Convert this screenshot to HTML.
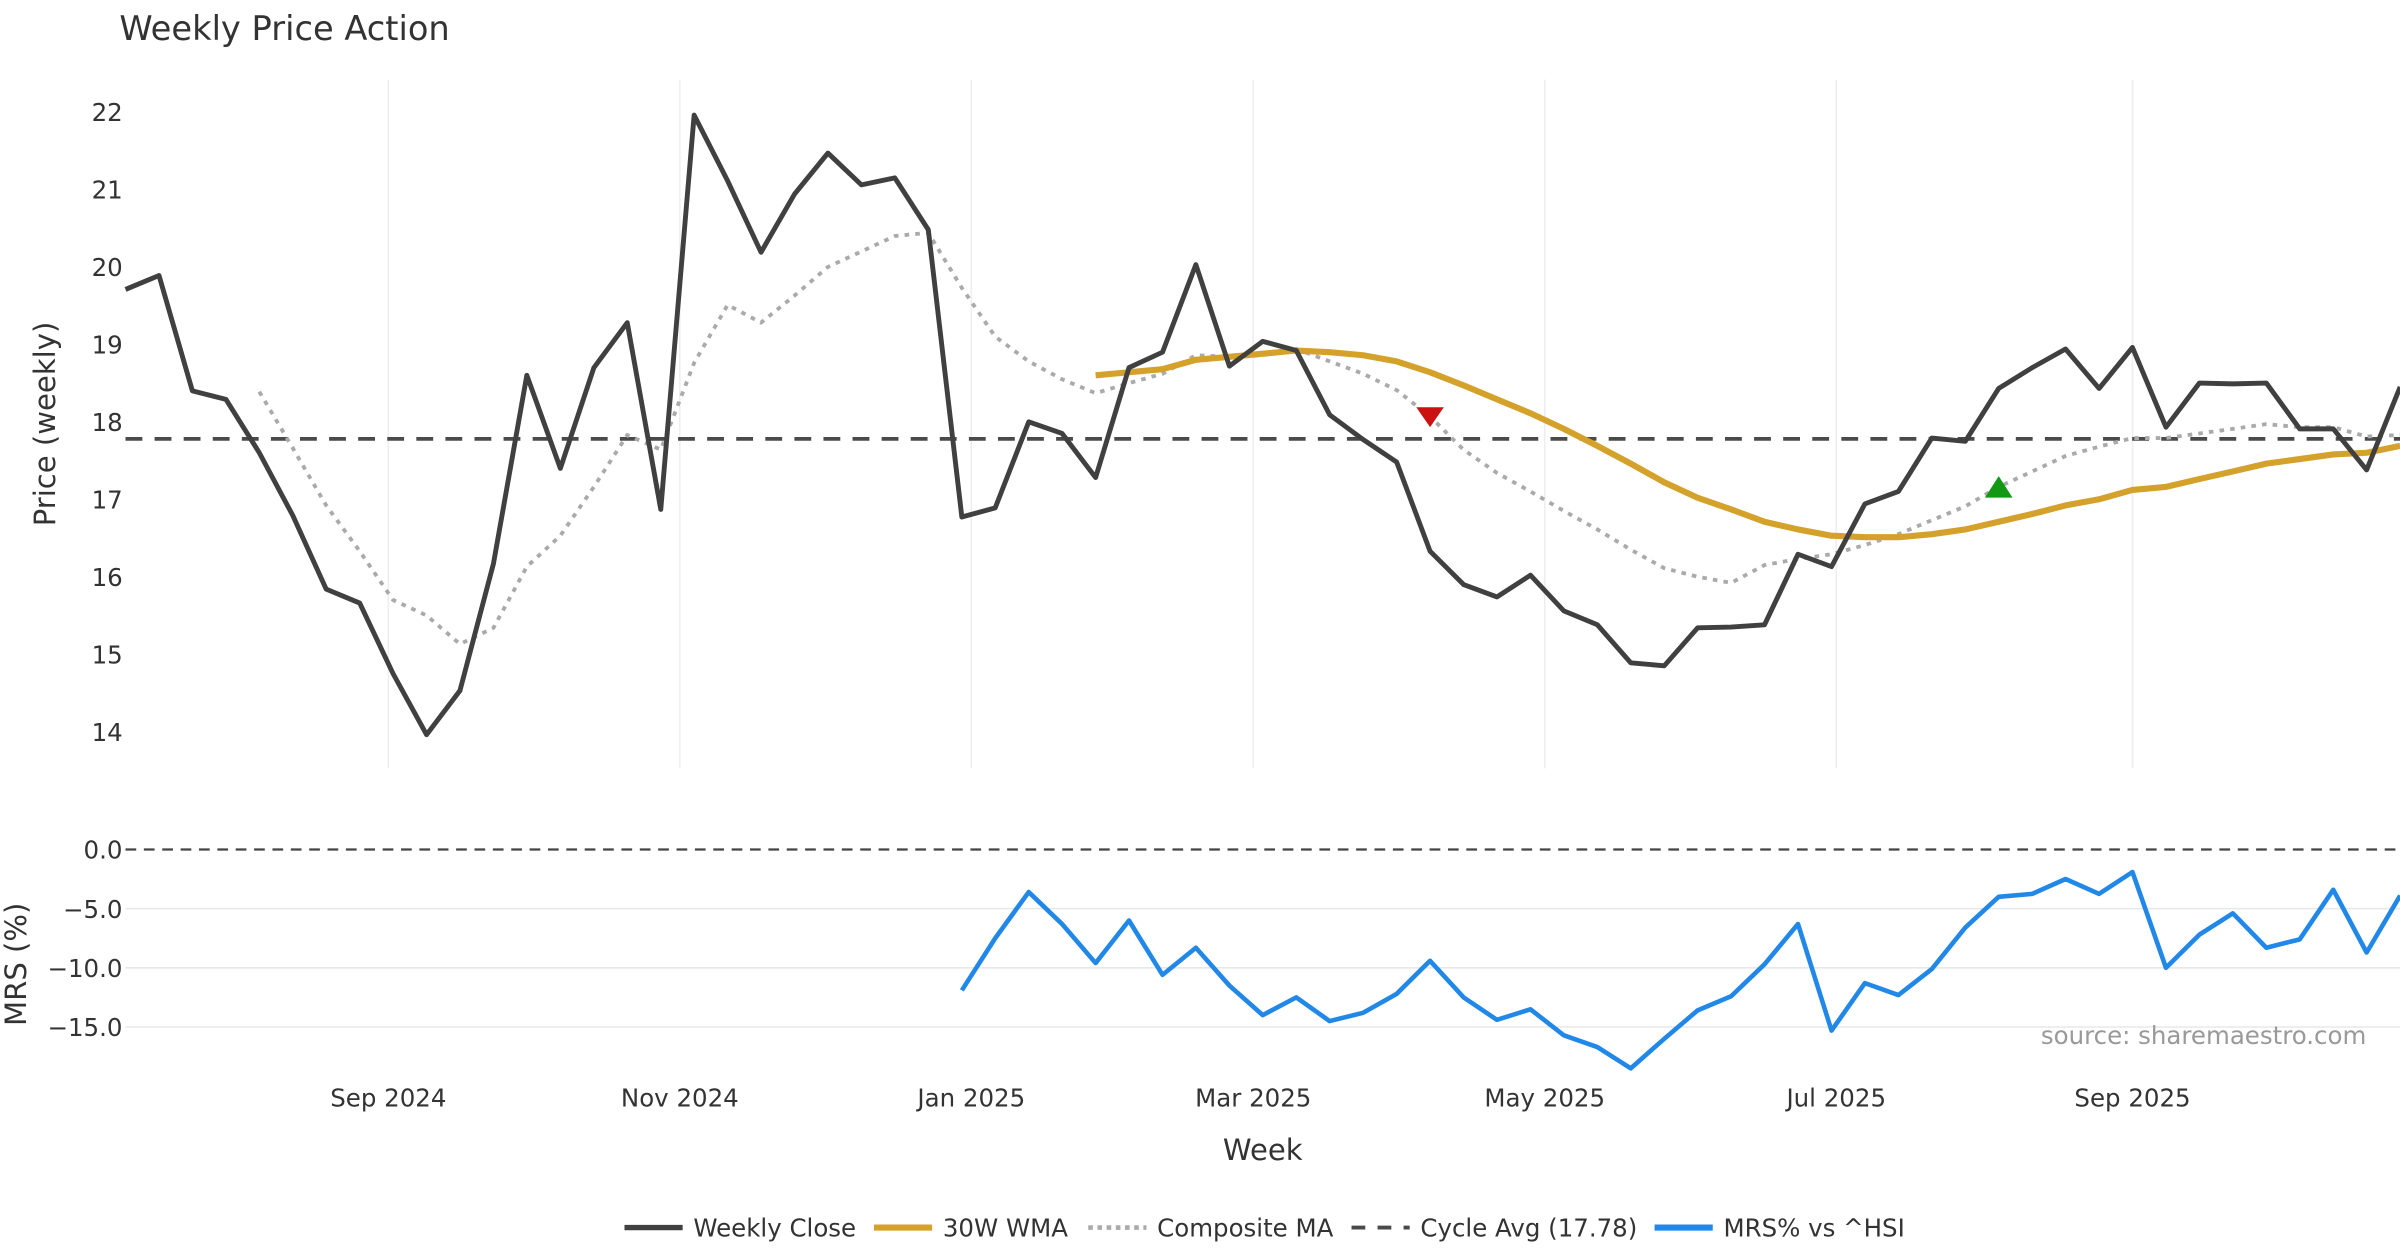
<!DOCTYPE html>
<html><head><meta charset="utf-8"><style>
html,body{margin:0;padding:0;background:#fff}
svg{display:block;font-family:"DejaVu Sans","Liberation Sans",sans-serif}
</style></head><body>
<svg id="chart" width="2400" height="1260" viewBox="0 0 1568 823.2" xmlns="http://www.w3.org/2000/svg">
<text x="78" y="26" font-size="22" fill="#333">Weekly Price Action</text>
<g id="grid"></g>
<g id="series"></g>
<g id="axes"></g>
<text x="1546" y="682" font-size="16" fill="#999" text-anchor="end">source: sharemaestro.com</text>
<text x="825" y="758" font-size="19" fill="#333" text-anchor="middle">Week</text>
<text transform="translate(36,277) rotate(-90)" font-size="19" fill="#333" text-anchor="middle">Price (weekly)</text>
<text transform="translate(17,630) rotate(-90)" font-size="19" fill="#333" text-anchor="middle">MRS (%)</text>
<g id="legend"></g>
</svg>
<script>
const closeVals=[19.71,19.89,18.4,18.29,17.6,16.79,15.84,15.66,14.75,13.96,14.53,16.17,18.6,17.4,18.7,19.28,16.87,21.96,21.11,20.19,20.94,21.47,21.06,21.15,20.48,16.77,16.89,18.0,17.85,17.28,18.7,18.9,20.03,18.72,19.04,18.92,18.09,17.77,17.48,16.33,15.9,15.74,16.02,15.56,15.38,14.89,14.85,15.34,15.35,15.38,16.29,16.13,16.94,17.1,17.79,17.75,18.43,18.7,18.94,18.43,18.96,17.93,18.5,18.49,18.5,17.91,17.91,17.38,18.45];
const compositeStart=4;
const compositeVals=[18.39,17.66,16.92,16.33,15.7,15.5,15.13,15.34,16.13,16.53,17.16,17.83,17.64,18.76,19.51,19.28,19.63,20.0,20.2,20.4,20.44,19.73,19.1,18.78,18.55,18.37,18.5,18.62,18.86,18.84,18.86,18.94,18.78,18.62,18.41,18.07,17.64,17.34,17.1,16.85,16.61,16.35,16.11,16.0,15.92,16.15,16.23,16.29,16.41,16.55,16.73,16.91,17.16,17.36,17.56,17.68,17.79,17.79,17.85,17.91,17.97,17.93,17.93,17.81,17.83];
const wmaStart=29;
const wmaVals=[18.6,18.64,18.68,18.8,18.84,18.88,18.92,18.9,18.86,18.78,18.64,18.47,18.29,18.11,17.91,17.69,17.46,17.22,17.02,16.87,16.71,16.61,16.53,16.51,16.51,16.55,16.61,16.71,16.81,16.92,17.0,17.12,17.16,17.26,17.36,17.46,17.52,17.58,17.6,17.69];
const mrsStart=25;
const mrsVals=[-11.9,-7.5,-3.6,-6.3,-9.6,-6.0,-10.6,-8.3,-11.5,-14.0,-12.5,-14.5,-13.8,-12.2,-9.4,-12.5,-14.4,-13.5,-15.7,-16.7,-18.5,-16.0,-13.6,-12.4,-9.7,-6.3,-15.3,-11.3,-12.3,-10.1,-6.6,-4.0,-3.75,-2.5,-3.75,-1.9,-10.0,-7.2,-5.4,-8.3,-7.6,-3.4,-8.7,-3.9];
const cycleAvg=17.78;
const sellIdx=39, buyIdx=56;
const priceTicks=[14,15,16,17,18,19,20,21,22];
const mrsTicks=[0,-5,-10,-15];
const mrsTickLabels=["0.0","\u22125.0","\u221210.0","\u221215.0"];
const dateTicks=["2024-09-01","2024-11-01","2025-01-01","2025-03-01","2025-05-01","2025-07-01","2025-09-01"];
const dateTickLabels=["Sep 2024","Nov 2024","Jan 2025","Mar 2025","May 2025","Jul 2025","Sep 2025"];
const firstWeek="2024-07-08";

const NS="http://www.w3.org/2000/svg";
const X0=82,X1=1568,PX=3.122;
const t0=Date.parse(firstWeek);
const xi=i=>X0+i*7*PX;
const xd=d=>X0+(Date.parse(d)-t0)/86400000*PX;
const yp=v=>478-(v-14)*50.6;
const ym=v=>555-v*7.73;
function mk(tag,parent,attrs){const e=document.createElementNS(NS,tag);for(const k in attrs)e.setAttribute(k,attrs[k]);document.getElementById(parent).appendChild(e);return e;}

dateTicks.forEach((d,k)=>{
  const x=xd(d);
  const g=mk('line','grid',{x1:x,x2:x,y1:52,y2:502,stroke:'#eceef2','stroke-width':1});
  
  
  const t=mk('text','axes',{x:x,y:723,'font-size':16,fill:'#333','text-anchor':'middle'});
  t.textContent=dateTickLabels[k];
  
  
});
priceTicks.forEach(v=>{
  const t=mk('text','axes',{x:70,y:yp(v)+6,'font-size':16,fill:'#333','text-anchor':'middle'});
  t.textContent=v;
  
  
});
mrsTicks.forEach((v,k)=>{
  if(v!==0){const g=mk('line','grid',{x1:X0,x2:X1,y1:ym(v),y2:ym(v),stroke:'#e8e8e8','stroke-width':1});
  
  }
  const t=mk('text','axes',{x:80,y:ym(v)+6,'font-size':16,fill:'#333','text-anchor':'end'});
  t.textContent=mrsTickLabels[k];
  
  
});
function path(vals,start,yf,attrs,name){
  const d=vals.map((v,j)=>(j?'L':'M')+xi(start+j).toFixed(1)+','+yf(v).toFixed(1)).join('');
  const p=mk('path','series',Object.assign({d:d,fill:'none','stroke-linejoin':'round'},attrs));
  
  
}
const ca=mk('line','series',{x1:X0,x2:X1,y1:yp(cycleAvg),y2:yp(cycleAvg),stroke:'#4a4a4a','stroke-width':2.5,'stroke-dasharray':'11 8'});


const z=mk('line','series',{x1:X0,x2:X1,y1:ym(0),y2:ym(0),stroke:'#444','stroke-width':1.5,'stroke-dasharray':'7 5'});


path(compositeVals,compositeStart,yp,{stroke:'#aaa','stroke-width':2.5,'stroke-dasharray':'3 4'},'composite-ma-line');
path(wmaVals,wmaStart,yp,{stroke:'#d4a12a','stroke-width':4},'wma-line');
path(closeVals,0,yp,{stroke:'#404040','stroke-width':3.2},'weekly-close-line');
path(mrsVals,mrsStart,ym,{stroke:'#2288e8','stroke-width':3},'mrs-line');
{const x=xi(sellIdx),y=yp(compositeVals[sellIdx-compositeStart]);
 const s=mk('path','series',{d:`M${x-9},${y-6}L${x+9},${y-6}L${x},${y+7}Z`,fill:'#cc1111'});
 
 }
{const x=xi(buyIdx),y=yp(compositeVals[buyIdx-compositeStart]);
 const s=mk('path','series',{d:`M${x-9},${y+7}L${x+9},${y+7}L${x},${y-7}Z`,fill:'#119911'});
 
 }
const legendItems=[
 {label:'Weekly Close',x:408,stroke:'#404040',w:3.5,dash:''},
 {label:'30W WMA',x:571,stroke:'#d4a12a',w:4,dash:''},
 {label:'Composite MA',x:711,stroke:'#aaa',w:3,dash:'3 3'},
 {label:'Cycle Avg (17.78)',x:883,stroke:'#4a4a4a',w:2.5,dash:'9 8'},
 {label:'MRS% vs ^HSI',x:1081,stroke:'#2288e8',w:4,dash:''}];
legendItems.forEach(it=>{
  const l=mk('line','legend',{x1:it.x,x2:it.x+38,y1:802,y2:802,stroke:it.stroke,'stroke-width':it.w,'stroke-dasharray':it.dash});
  
  
  const t=mk('text','legend',{x:it.x+45,y:808,'font-size':16,fill:'#333'});
  t.textContent=it.label;
  
  
});
</script>
</body></html>
